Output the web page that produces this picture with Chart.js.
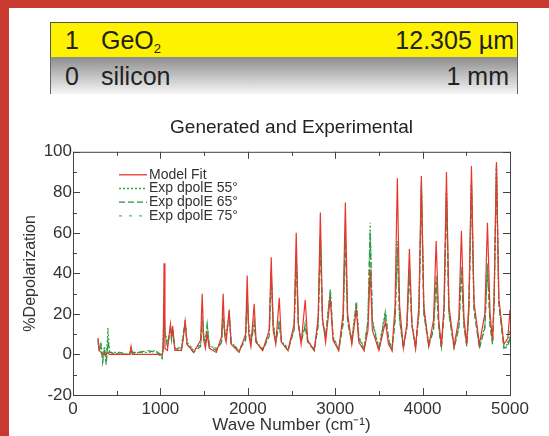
<!DOCTYPE html>
<html lang="en">
<head>
  <meta charset="UTF-8">
  <title>Generated and Experimental</title>
  <script src="https://cdn.jsdelivr.net/npm/chart.js"></script>
  <style>
    body { margin: 0; width: 549px; height: 436px; background: #c8392f; position: relative; overflow: hidden;
      font-family: "Liberation Sans", Arial, sans-serif; }
    #panel { position: absolute; left: 9px; top: 8px; right: 0; bottom: 0; background: #fff; }
    .row { position: absolute; left: 50px; width: 466px; font-size: 25px; color: #222; }
    .row span { position: absolute; top: 3px; }
    #layer1 { top: 22px; height: 34px; background: #fff200; border: 1px solid #555; }
    #layer0 { top: 57px; height: 37px; background: linear-gradient(#8c8c8c, #f6f6f6);
      border-left: 1px solid #666; border-right: 1px solid #666; }
    #layer0 span { top: 5px; }
    sub { font-size: 13px; vertical-align: -4px; }
    #chart-box { position: absolute; left: 0; top: 100px; width: 549px; height: 336px; }
  </style>
</head>
<body>

<div id="panel"></div>
<div class="row" id="layer1">
  <span style="left:14px">1</span>
  <span style="left:50px">GeO<sub>2</sub></span>
  <span style="right:3px">12.305 µm</span>
</div>
<div class="row" id="layer0">
  <span style="left:14px">0</span>
  <span style="left:50px">silicon</span>
  <span style="right:8px">1 mm</span>
</div>

<div id="chart-box">
  <canvas id="depolChart" width="549" height="336"></canvas>
</div>

<script>
  // wave numbers (cm-1) shared by all four curves
  const waveNumber = [
    286, 300, 320, 340, 360, 380, 400, 415, 440, 480, 540, 620, 650, 664, 680, 750, 850, 950, 1000, 1020,
    1032, 1042, 1052, 1080, 1115, 1128, 1140, 1165, 1240, 1262, 1283, 1305, 1380,
    1460, 1478, 1496, 1515, 1535, 1560, 1640, 1700, 1718, 1736, 1752, 1787, 1810, 1900,
    1975, 1993, 2011, 2035, 2073, 2095, 2170, 2245, 2268, 2291, 2320, 2360, 2385, 2460,
    2530, 2554, 2578, 2610, 2657, 2685, 2760, 2805, 2830, 2855, 2890, 2944, 2975, 3040,
    3090, 3116, 3142, 3190, 3242, 3270, 3330, 3375, 3400, 3425, 3500, 3574, 3610, 3650,
    3685, 3711, 3737, 3780, 3820, 3849, 3878, 3920, 3958, 3986, 4014, 4070, 4125, 4155, 4185, 4215,
    4245, 4273, 4301, 4360, 4415, 4444, 4473, 4505, 4530, 4559, 4588, 4650, 4712, 4742, 4772, 4800, 4818, 4845, 4872, 4930, 4975, 5000
  ];

  const modelFit = [
    8, 2, 1, 0, 0, 0, 1, 0, 0, 0, 0, 0, 0, 4, 0, 0, 0, 0, 0, 0,
    2, 45, 3, 2, 15, 9, 14, 2, 2, 8, 17, 5, 1,
    7, 30, 7, 3, 10, 3, 1, 9, 30, 9, 6, 22, 5, 1,
    10, 39, 10, 4, 25, 6, 2, 12, 48, 12, 5, 28, 6, 2,
    15, 60, 15, 5, 27, 7, 2, 18, 70, 18, 6, 28, 7, 2,
    20, 75, 20, 5, 22, 6, 2, 12, 42, 12, 2, 16, 5, 2,
    24, 87, 24, 3, 15, 52, 15, 3, 24, 88, 24, 4, 17, 56, 17, 4,
    24, 90, 24, 4, 18, 61, 18, 5, 26, 93, 26, 5, 20, 65, 20, 7, 28, 95, 28, 5, 8, 22
  ];

  const exp55 = [
    7, 3, 6, -2, 4, -4, 13, 2, 0, 1, 1, 0, 1, 3, 0, 1, 1, 2, -1, -2,
    6, 22, 12, 5, 13, 8, 12, 3, 3, 10, 16, 6, 2,
    5, 18, 9, 7, 15, 5, 2, 7, 20, 12, 10, 20, 6, 2,
    8, 30, 13, 6, 16, 7, 2, 10, 41, 15, 7, 16, 7, 2,
    13, 48, 16, 7, 15, 7, 2, 15, 58, 17, 9, 32, 9, 2,
    16, 60, 17, 7, 26, 9, 3, 17, 65, 17, 3, 21, 8, 2,
    18, 55, 18, 4, 14, 42, 15, 4, 21, 85, 21, 5, 13, 38, 14, 4,
    21, 80, 21, 4, 14, 43, 15, 5, 23, 86, 23, 4, 14, 45, 15, 6, 26, 94, 26, 4, 5, 10
  ];

  const exp65 = [
    6, 2, 4, -4, 3, -5, 8, 1, 1, 0, 1, 0, 0, 2, 1, 1, 2, 1, 0, -2,
    5, 20, 10, 4, 12, 7, 11, 3, 2, 9, 15, 5, 1,
    4, 16, 8, 6, 14, 4, 2, 6, 18, 11, 9, 19, 5, 2,
    7, 28, 12, 5, 15, 6, 2, 9, 39, 14, 6, 15, 6, 2,
    12, 46, 15, 6, 14, 6, 2, 14, 56, 16, 8, 31, 8, 2,
    15, 58, 16, 6, 25, 8, 2, 16, 60, 16, 2, 20, 7, 2,
    17, 53, 17, 3, 13, 40, 14, 3, 20, 82, 20, 4, 12, 36, 13, 3,
    20, 78, 20, 3, 13, 41, 14, 4, 22, 84, 22, 3, 13, 43, 14, 5, 25, 92, 25, 3, 4, 8
  ];

  const exp75 = [
    8, 1, 5, -3, 2, -3, 6, 3, 0, 1, 0, 1, 0, 3, 0, 1, 1, 2, 0, -1,
    7, 24, 11, 5, 13, 9, 13, 4, 3, 11, 17, 6, 2,
    5, 19, 9, 7, 15, 5, 3, 7, 21, 12, 10, 21, 6, 2,
    8, 31, 13, 6, 17, 7, 3, 10, 42, 15, 7, 17, 7, 3,
    13, 49, 16, 7, 16, 7, 3, 15, 59, 17, 9, 33, 9, 3,
    16, 61, 17, 7, 27, 9, 3, 17, 62, 17, 3, 22, 8, 3,
    18, 56, 18, 4, 14, 43, 15, 4, 21, 84, 21, 5, 13, 39, 14, 4,
    21, 81, 21, 4, 14, 44, 15, 5, 23, 85, 23, 4, 14, 46, 15, 6, 26, 93, 26, 4, 6, 12
  ];

  const seriesNames = ['Model Fit', 'Exp dpolE 55°', 'Exp dpolE 65°', 'Exp dpolE 75°'];
  const yTicks = [-20, 0, 20, 40, 60, 80, 100];
  const xTicks = [0, 1000, 2000, 3000, 4000, 5000];

  function pts(vals) {
    return waveNumber.map((w, i) => ({ x: w, y: vals[i] }));
  }

  const FONT = '"Liberation Sans", Arial, sans-serif';

  // box frame with inward ticks on all four sides
  const frameTicks = {
    id: 'frameTicks',
    afterDatasetsDraw(chart) {
      const { ctx, chartArea: a, scales: { x, y } } = chart;
      ctx.save();
      ctx.strokeStyle = '#444';
      ctx.lineWidth = 1;
      ctx.strokeRect(a.left + 0.5, a.top + 0.5, a.width, a.height);
      ctx.beginPath();
      for (let v = 0; v <= 5000; v += 500) {
        const px = Math.round(x.getPixelForValue(v)) + 0.5;
        const len = v % 1000 === 0 ? 7 : 4;
        ctx.moveTo(px, a.bottom); ctx.lineTo(px, a.bottom - len);
        ctx.moveTo(px, a.top); ctx.lineTo(px, a.top + len);
      }
      for (let v = -20; v <= 100; v += 10) {
        const py = Math.round(y.getPixelForValue(v)) + 0.5;
        const len = v % 20 === 0 ? 7 : 4;
        ctx.moveTo(a.left, py); ctx.lineTo(a.left + len, py);
        ctx.moveTo(a.right, py); ctx.lineTo(a.right - len, py);
      }
      ctx.stroke();
      ctx.restore();
    }
  };

  // legend drawn inside the plot, top left
  const innerLegend = {
    id: 'innerLegend',
    afterDatasetsDraw(chart) {
      const { ctx, chartArea: a } = chart;
      ctx.save();
      ctx.font = '14px ' + FONT;
      ctx.textBaseline = 'middle';
      chart.data.datasets.forEach((ds, i) => {
        const yy = a.top + 23 + i * 13.7;
        const x0 = a.left + 46;
        ctx.strokeStyle = ds.borderColor;
        ctx.lineWidth = 1.3;
        ctx.setLineDash(ds.borderDash || []);
        ctx.beginPath();
        ctx.moveTo(x0, yy); ctx.lineTo(x0 + 28, yy);
        ctx.stroke();
        ctx.setLineDash([]);
        ctx.fillStyle = '#333';
        ctx.fillText(ds.label, x0 + 30, yy);
      });
      ctx.restore();
    }
  };

  const ctx = document.getElementById('depolChart').getContext('2d');
  const depolChart = new Chart(ctx, {
    type: 'line',
    data: {
      datasets: [
        { label: seriesNames[0], data: pts(modelFit), borderColor: '#e8362f', borderWidth: 1.2 },
        { label: seriesNames[1], data: pts(exp55), borderColor: '#35a84a', borderWidth: 1.3, borderDash: [2, 2] },
        { label: seriesNames[2], data: pts(exp65), borderColor: '#2a8c3c', borderWidth: 1.2, borderDash: [6, 3] },
        { label: seriesNames[3], data: pts(exp75), borderColor: '#4db57a', borderWidth: 1.2, borderDash: [3, 7] }
      ]
    },
    options: {
      responsive: false,
      animation: false,
      elements: { point: { radius: 0 }, line: { tension: 0 } },
      layout: { padding: { left: 0, right: 39, top: 0, bottom: 0 } },
      plugins: {
        legend: { display: false },
        tooltip: { enabled: false },
        title: {
          display: true,
          fullSize: false,
          text: 'Generated and Experimental',
          color: '#222',
          font: { family: FONT, size: 19, weight: 'normal' },
          padding: { top: 16, bottom: 13 }
        }
      },
      scales: {
        x: {
          type: 'linear',
          min: 0, max: 5000,
          afterBuildTicks: s => { s.ticks = xTicks.map(v => ({ value: v })); },
          afterFit: s => { s.height = 41; },
          grid: { display: false, drawTicks: false },
          border: { display: false },
          ticks: {
            color: '#333', padding: 4, maxRotation: 0,
            font: { family: FONT, size: 17 },
            callback: v => String(v)
          },
          title: {
            display: true, text: 'Wave Number (cm⁻¹)', color: '#333',
            font: { family: FONT, size: 17 },
            padding: { top: 0, bottom: 0 }
          }
        },
        y: {
          min: -20, max: 100,
          afterBuildTicks: s => { s.ticks = yTicks.map(v => ({ value: v })); },
          afterFit: s => { s.width = 73; },
          grid: { display: false, drawTicks: false },
          border: { display: false },
          ticks: {
            color: '#333', padding: 1,
            font: { family: FONT, size: 17 },
            callback: v => String(v)
          },
          title: {
            display: true, text: '%Depolarization', color: '#333',
            font: { family: FONT, size: 16 },
            padding: { top: 21, bottom: 0 }
          }
        }
      }
    },
    plugins: [frameTicks, innerLegend]
  });
</script>

</body>
</html>
